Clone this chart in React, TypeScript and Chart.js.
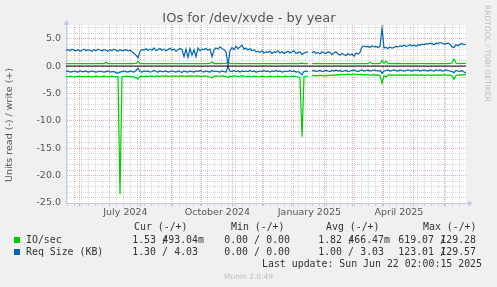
import React, { useEffect, useRef } from 'react';
import { Chart, registerables } from 'chart.js';

Chart.register(...registerables);

// ---------------- data ----------------
const START_UTC = Date.UTC(2024, 4, 18, 2, 0, 15); // left edge of the plot
const STEP_DAYS = 2;
const X_MAX_DAYS = 400;

// IO/sec write (+)
const ioWrite = [
  0.45, 0.46, 0.44, 0.45, 0.47, 0.45, 0.44, 0.46, 0.45, 0.44,
  0.46, 0.45, 0.44, 0.46, 0.45, 0.47, 0.45, 0.44, 0.46, 0.45,
  0.70, 0.46, 0.45, 0.44, 0.46, 0.45, 0.44, 0.47, 0.45, 0.46,
  0.45, 0.44, 0.46, 0.45, 0.47, 0.50, 0.90, 0.46, 0.45, 0.44,
  0.46, 0.45, 0.44, 0.46, 0.45, 0.47, 0.45, 0.44, 0.46, 0.45,
  0.44, 0.46, 0.45, 0.47, 0.45, 0.44, 0.46, 0.45, 0.44, 0.46,
  0.45, 0.47, 0.45, 0.44, 0.46, 0.45, 0.44, 0.46, 0.45, 0.47,
  0.45, 0.46, 0.52, 0.80, 0.46, 0.45, 0.44, 0.46, 0.45, 0.47,
  0.50, 0.75, 0.46, 0.45, 0.44, 0.46, 0.45, 0.47, 0.45, 0.44,
  0.46, 0.45, 0.44, 0.46, 0.45, 0.47, 0.45, 0.44, 0.46, 0.45,
  0.44, 0.46, 0.45, 0.47, 0.45, 0.44, 0.46, 0.45, 0.44, 0.46,
  0.45, 0.47, 0.45, 0.44, 0.46, 0.45, 0.44, 0.50, 0.55, 0.46,
  0.45, 0.44, null, 0.46, 0.45, 0.47, 0.45, 0.44, 0.46, 0.45,
  0.44, 0.46, 0.45, 0.47, 0.45, 0.44, 0.46, 0.45, 0.44, 0.46,
  0.45, 0.47, 0.45, 0.44, 0.46, 0.45, 0.44, 0.46, 0.48, 0.46,
  0.47, 0.45, 0.72, 0.46, 0.45, 0.47, 0.46, 0.48, 1.00, 0.50,
  0.90, 0.47, 0.46, 0.45, 0.47, 0.46, 0.48, 0.46, 0.45, 0.47,
  0.46, 0.48, 0.46, 0.45, 0.47, 0.46, 0.45, 0.47, 0.48, 0.46,
  0.45, 0.47, 0.46, 0.48, 0.46, 0.45, 0.47, 0.46, 0.48, 0.46,
  0.47, 0.45, 0.48, 0.60, 1.29, 0.55, 0.47, 0.46, 0.48, 0.47, 0.49,
];

// IO/sec read (-), plotted below zero
const ioRead = [
  -1.9, -1.95, -1.85, -1.9, -2.0, -1.9, -1.85, -1.95, -1.9, -1.9,
  -1.95, -1.85, -1.9, -2.0, -1.9, -1.85, -1.9, -1.95, -1.9, -1.85,
  -1.9, -1.95, -1.9, -1.85, -1.9, -2.0, -1.9, -23.4, -1.95, -1.9,
  -1.85, -1.9, -1.95, -1.9, -2.0, -2.1, -2.4, -1.9, -1.85, -1.9,
  -1.85, -1.9, -1.8, -1.85, -1.9, -1.8, -1.85, -1.9, -1.8, -1.85,
  -1.8, -1.85, -1.9, -1.8, -1.85, -1.8, -1.9, -1.85, -1.8, -1.85,
  -1.9, -1.8, -1.85, -1.8, -1.9, -1.85, -1.8, -1.85, -1.9, -1.8,
  -1.85, -1.9, -2.0, -2.2, -1.85, -1.8, -1.85, -1.9, -1.8, -1.85,
  -1.9, -2.1, -1.85, -1.9, -1.8, -1.85, -1.9, -1.85, -1.8, -1.85,
  -1.9, -1.85, -1.9, -1.95, -1.85, -1.9, -1.95, -1.9, -1.85, -1.9,
  -1.95, -1.9, -1.85, -1.9, -1.95, -1.9, -1.85, -1.9, -1.95, -1.9,
  -1.85, -1.9, -1.95, -1.9, -1.85, -1.9, -2.0, -2.2, -12.9, -1.95,
  -1.9, -1.85, null, -1.75, -1.7, -1.8, -1.75, -1.7, -1.75, -1.8,
  -1.7, -1.75, -1.65, -1.7, -1.6, -1.65, -1.55, -1.6, -1.5, -1.55,
  -1.5, -1.45, -1.55, -1.5, -1.45, -1.5, -1.55, -1.5, -1.6, -1.55,
  -1.6, -1.55, -1.7, -1.6, -1.55, -1.65, -1.6, -1.7, -3.1, -1.75,
  -2.0, -1.65, -1.6, -1.65, -1.6, -1.7, -1.65, -1.6, -1.65, -1.7,
  -1.6, -1.65, -1.7, -1.6, -1.65, -1.6, -1.7, -1.65, -1.6, -1.65,
  -1.7, -1.6, -1.65, -1.7, -1.6, -1.65, -1.7, -1.6, -1.65, -1.6,
  -1.65, -1.7, -1.6, -1.8, -2.4, -1.7, -1.6, -1.65, -1.55, -1.6, -1.53,
];

// Req Size (KB) write (+)
const reqWrite = [
  2.9, 3.0, 2.8, 3.1, 2.9, 2.8, 3.0, 2.7, 2.9, 3.1,
  2.8, 3.0, 2.9, 2.7, 3.0, 2.8, 3.1, 2.9, 2.8, 3.0,
  2.9, 2.7, 3.0, 2.8, 3.1, 2.9, 2.7, 3.0, 2.8, 2.9,
  3.0, 2.8, 2.9, 2.6, 2.3, 2.0, 1.5, 2.7, 3.0, 2.9,
  3.2, 2.8, 3.1, 2.9, 3.3, 2.8, 3.0, 3.2, 2.9, 3.1,
  2.8, 3.0, 3.3, 2.9, 3.1, 2.7, 3.0, 3.2, 3.0, 1.7,
  3.1, 1.6, 3.2, 2.0, 3.0, 1.7, 3.3, 2.8, 3.1, 3.0,
  3.2, 2.9, 3.1, 1.7, 3.0, 3.3, 3.1, 3.5, 3.2, 3.0,
  2.6, 0.2, 2.8, 3.4, 3.0, 3.6, 3.2, 3.5, 3.8, 3.1,
  3.3, 2.9, 3.2, 2.8, 3.0, 2.6, 2.7, 2.5, 2.8, 2.4,
  2.6, 2.5, 2.7, 2.3, 2.6, 2.5, 2.8, 2.4, 2.6, 2.3,
  2.5, 2.7, 2.4, 2.6, 2.8, 2.3, 2.5, 2.6, 2.1, 2.4,
  2.5, 2.6, null, 2.4, 2.7, 2.3, 2.5, 2.2, 2.6, 2.4,
  2.3, 2.6, 2.5, 2.1, 2.4, 2.6, 2.2, 2.0, 2.3, 2.1,
  1.9, 2.3, 2.0, 2.2, 1.8, 2.4, 2.2, 2.5, 3.5, 3.7,
  3.5, 3.6, 3.4, 3.7, 3.5, 3.6, 3.4, 3.6, 6.9, 3.3,
  3.4, 3.2, 3.5, 3.3, 3.4, 3.6, 3.5, 3.7, 3.6, 3.8,
  3.6, 3.7, 3.9, 3.7, 3.8, 3.6, 3.9, 3.8, 4.0, 3.9,
  4.1, 4.0, 4.2, 4.1, 3.9, 4.2, 4.1, 4.3, 4.2, 4.0,
  4.1, 4.2, 4.0, 3.5, 3.4, 3.9, 3.7, 4.0, 4.1, 3.9, 4.03,
];

// Req Size (KB) read (-), plotted below zero
const reqRead = [
  -1.0, -0.9, -1.1, -1.0, -0.9, -1.0, -1.1, -0.9, -1.0, -1.0,
  -0.9, -1.1, -1.0, -0.9, -1.0, -1.1, -1.0, -0.9, -1.0, -1.1,
  -1.0, -0.9, -1.1, -1.0, -1.0, -1.2, -1.3, -1.1, -1.0, -0.9,
  -1.0, -1.1, -0.9, -1.0, -1.1, -0.8, -0.4, -1.0, -1.1, -0.9,
  -1.0, -0.9, -1.1, -1.0, -0.8, -1.0, -1.1, -0.9, -1.0, -1.0,
  -0.9, -1.1, -1.0, -0.9, -1.0, -1.1, -0.9, -1.0, -1.2, -0.9,
  -1.0, -1.1, -0.9, -1.0, -1.1, -0.9, -1.0, -0.8, -1.0, -1.1,
  -0.9, -1.0, -1.1, -0.8, -1.0, -0.9, -1.0, -1.1, -0.9, -1.0,
  -1.1, -0.1, -0.9, -1.0, -0.8, -1.0, -0.9, -1.1, -0.9, -1.0,
  -0.9, -1.0, -0.8, -1.0, -0.9, -1.1, -1.0, -0.9, -1.0, -0.8,
  -1.0, -0.9, -1.1, -0.9, -1.0, -0.8, -1.0, -0.9, -1.1, -1.0,
  -0.9, -1.0, -0.8, -1.0, -0.9, -1.1, -1.0, -1.2, -1.6, -1.0,
  -0.9, -1.0, null, -0.9, -0.8, -1.0, -0.9, -0.8, -1.0, -0.9,
  -0.8, -0.9, -1.0, -0.8, -0.9, -0.7, -0.9, -0.8, -1.0, -0.9,
  -0.8, -1.0, -0.9, -0.8, -0.7, -0.9, -1.0, -0.8, -0.7, -0.9,
  -0.8, -0.7, -0.9, -0.8, -0.7, -0.8, -0.9, -0.8, -1.3, -0.9,
  -0.8, -0.7, -0.9, -0.8, -0.7, -0.8, -0.9, -0.7, -0.8, -0.9,
  -0.8, -0.7, -0.8, -0.9, -0.7, -0.8, -0.7, -0.9, -0.8, -0.7,
  -0.8, -0.9, -0.7, -0.8, -0.9, -0.7, -0.8, -0.7, -0.9, -0.8,
  -0.7, -0.8, -0.9, -1.0, -1.2, -0.8, -0.9, -1.0, -0.8, -1.1, -1.3,
];

// axis ticks / labels
const yMin = -25;
const yMax = 7.5;
const monthStarts = [
  '2024-06-01', '2024-07-01', '2024-08-01', '2024-09-01', '2024-10-01', '2024-11-01',
  '2024-12-01', '2025-01-01', '2025-02-01', '2025-03-01', '2025-04-01', '2025-05-01', '2025-06-01',
];
const xLabels = ['July 2024', 'October 2024', 'January 2025', 'April 2025'];
const xLabelFrom = ['2024-07-01', '2024-10-01', '2025-01-01', '2025-04-01'];
const xLabelTo = ['2024-08-01', '2024-11-01', '2025-02-01', '2025-05-01'];
const firstWeek = '2024-05-20';

// legend
const title = 'IOs for /dev/xvde - by year';
const yTitle = 'Units read (-) / write (+)';
const legendNames = ['IO/sec', 'Req Size (KB)'];
const colHeaders = ['Cur (-/+)', 'Min (-/+)', 'Avg (-/+)', 'Max (-/+)'];
const curCol = ['1.53/493.04m', '1.30/4.03'];
const minCol = ['0.00/0.00', '0.00/0.00'];
const avgCol = ['1.82/466.47m', '1.00/3.03'];
const maxCol = ['619.07/129.28', '123.01/129.57'];
const lastUpdate = 'Last update: Sun Jun 22 02:00:15 2025';
const watermark = 'RRDTOOL / TOBI OETIKER';
const footer = 'Munin 2.0.49';

// ---------------- styles ----------------
const GREEN = '#00cc00';
const BLUE = '#0066b3';
const GRID = 'rgba(185,185,185,0.6)';
const MGRID = 'rgba(230,140,140,0.75)';
const AXIS = '#c4c8f0';
const TICK_COLOR = '#555555';
const SANS = '"DejaVu Sans", sans-serif';
const MONO = '"DejaVu Sans Mono", monospace';

const DAY = 86400000;
const dayOf = (iso: string) => (Date.parse(iso + 'T00:00:00Z') - START_UTC) / DAY;
const key = (v: number) => Math.round(v * 1000);

const monthDays = monthStarts.map(dayOf);
const labelDays = xLabels.map((_, i) => (dayOf(xLabelFrom[i]) + dayOf(xLabelTo[i])) / 2);
const weekDays: number[] = [];
for (let d = dayOf(firstWeek); d < X_MAX_DAYS; d += 7) {
  if (!monthDays.some((m) => Math.abs(m - d) < 0.5)) weekDays.push(d);
}
const kindMap = new Map<number, string>();
weekDays.forEach((d) => kindMap.set(key(d), 'week'));
monthDays.forEach((d) => kindMap.set(key(d), 'month'));
const labelMap = new Map<number, string>();
labelDays.forEach((d, i) => {
  kindMap.set(key(d), 'label');
  labelMap.set(key(d), xLabels[i]);
});
const xTickValues = [...weekDays, ...monthDays, ...labelDays].sort((a, b) => a - b);
const yTickValues: number[] = [];
for (let v = yMin; v <= Math.floor(yMax); v++) yTickValues.push(v);

const toPoints = (arr: (number | null)[]) => arr.map((v, i) => ({ x: i * STEP_DAYS, y: v }));

const decorPlugin = {
  id: 'decor',
  beforeDraw(chart: any) {
    const { ctx, chartArea: a, width, height } = chart;
    ctx.save();
    ctx.fillStyle = '#f0f0f0';
    ctx.fillRect(0, 0, width, height);
    ctx.fillStyle = '#ffffff';
    ctx.fillRect(a.left, a.top, a.right - a.left, a.bottom - a.top);
    ctx.restore();
  },
  afterDraw(chart: any) {
    const { ctx, chartArea: a } = chart;
    ctx.save();
    // axis arrows
    ctx.fillStyle = AXIS;
    ctx.strokeStyle = AXIS;
    ctx.lineWidth = 1;
    ctx.beginPath();
    ctx.moveTo(a.right, a.bottom + 0.5);
    ctx.lineTo(a.right + 4, a.bottom + 0.5);
    ctx.stroke();
    ctx.beginPath();
    ctx.moveTo(a.right + 7, a.bottom + 0.5);
    ctx.lineTo(a.right + 2, a.bottom - 2.5);
    ctx.lineTo(a.right + 2, a.bottom + 3.5);
    ctx.closePath();
    ctx.fill();
    ctx.beginPath();
    ctx.moveTo(a.left + 0.5, a.top);
    ctx.lineTo(a.left + 0.5, a.top - 2);
    ctx.stroke();
    ctx.beginPath();
    ctx.moveTo(a.left + 0.5, a.top - 5);
    ctx.lineTo(a.left - 2.5, a.top);
    ctx.lineTo(a.left + 3.5, a.top);
    ctx.closePath();
    ctx.fill();

    // title
    ctx.fillStyle = '#555555';
    ctx.font = `13px ${SANS}`;
    ctx.textAlign = 'center';
    ctx.textBaseline = 'middle';
    ctx.fillText(title, 249, 19);

    // y title
    ctx.save();
    ctx.translate(10, 125);
    ctx.rotate(-Math.PI / 2);
    ctx.font = `9.5px ${SANS}`;
    ctx.fillStyle = TICK_COLOR;
    ctx.fillText(yTitle, 0, 0);
    ctx.restore();

    // watermark
    ctx.save();
    ctx.translate(487, 5);
    ctx.rotate(Math.PI / 2);
    ctx.font = `7.5px ${SANS}`;
    ctx.fillStyle = '#bdbdbd';
    ctx.textAlign = 'left';
    ctx.textBaseline = 'middle';
    ctx.fillText(watermark, 0, 0);
    ctx.restore();

    // legend
    ctx.font = `9.9px ${MONO}`;
    ctx.fillStyle = '#333333';
    ctx.textBaseline = 'middle';
    ctx.textAlign = 'left';
    const headerX = [134, 231, 326, 423];
    const readRight = [156, 248, 342, 434];
    const headerY = 227;
    const rowY = [240, 252];
    colHeaders.forEach((h, i) => ctx.fillText(h, headerX[i], headerY));
    const colors = [GREEN, BLUE];
    const cols = [curCol, minCol, avgCol, maxCol];
    legendNames.forEach((name, r) => {
      ctx.fillStyle = colors[r];
      ctx.fillRect(14, rowY[r] - 3, 6, 6);
      ctx.fillStyle = '#333333';
      ctx.textAlign = 'left';
      ctx.fillText(name, 26, rowY[r]);
      cols.forEach((col, c) => {
        const [rd, wr] = col[r].split('/');
        const R = readRight[c];
        ctx.textAlign = 'right';
        ctx.fillText(rd, R, rowY[r]);
        ctx.textAlign = 'left';
        ctx.fillText('/', R + 6, rowY[r]);
        const m = wr.match(/^([\d.]+)([a-zA-Z]?)$/);
        const num = m ? m[1] : wr;
        const suf = m ? m[2] : '';
        ctx.textAlign = 'right';
        ctx.fillText(num, R + 42, rowY[r]);
        if (suf) {
          ctx.textAlign = 'left';
          ctx.fillText(suf, R + 42, rowY[r]);
        }
      });
    });
    ctx.textAlign = 'right';
    ctx.fillText(lastUpdate, 482, 264);

    // footer
    ctx.font = `7.5px ${SANS}`;
    ctx.fillStyle = '#bdbdbd';
    ctx.textAlign = 'center';
    ctx.fillText(footer, 248.5, 277);
    ctx.restore();
  },
};

export default function App() {
  const ref = useRef<HTMLCanvasElement | null>(null);
  useEffect(() => {
    if (!ref.current) return;
    const lineDs = (label: string, data: (number | null)[], color: string) => ({
      label,
      data: toPoints(data),
      borderColor: color,
      backgroundColor: color,
      borderWidth: 1.2,
      pointRadius: 0,
      tension: 0,
      spanGaps: false,
      fill: false,
    });
    const chart = new Chart(ref.current, {
      type: 'line',
      data: {
        datasets: [
          {
            label: 'zero',
            data: [
              { x: 0, y: 0 },
              { x: X_MAX_DAYS, y: 0 },
            ],
            borderColor: '#000000',
            borderWidth: 1,
            pointRadius: 0,
            fill: false,
          },
          lineDs('Req Size write', reqWrite, BLUE),
          lineDs('Req Size read', reqRead, BLUE),
          lineDs('IO/sec write', ioWrite, GREEN),
          lineDs('IO/sec read', ioRead, GREEN),
        ] as any,
      },
      options: {
        responsive: false,
        animation: false,
        devicePixelRatio: 1,
        layout: { padding: { left: 0, right: 31, top: 25, bottom: 60 } },
        plugins: {
          legend: { display: false },
          tooltip: { enabled: false },
          title: { display: false },
        },
        scales: {
          x: {
            type: 'linear',
            min: 0,
            max: X_MAX_DAYS,
            afterFit: (s: any) => {
              s.height = 24;
            },
            afterBuildTicks: (s: any) => {
              s.ticks = xTickValues.map((v) => ({ value: v }));
            },
            grid: {
              drawTicks: true,
              tickLength: 3,
              lineWidth: 1,
              color: (c: any) => {
                const k = kindMap.get(key(c.tick ? c.tick.value : -1));
                if (k === 'month') return MGRID;
                if (k === 'week') return GRID;
                return 'rgba(0,0,0,0)';
              },
            },
            border: { display: true, color: AXIS, width: 1, dash: [1, 1] },
            ticks: {
              autoSkip: false,
              maxRotation: 0,
              padding: 1,
              color: TICK_COLOR,
              font: { family: SANS, size: 9.5 },
              callback: (v: any) => labelMap.get(key(Number(v))) || '',
            },
          },
          y: {
            type: 'linear',
            min: yMin,
            max: yMax,
            afterFit: (s: any) => {
              s.width = 66;
            },
            afterBuildTicks: (s: any) => {
              s.ticks = yTickValues.map((v) => ({ value: v }));
            },
            grid: {
              drawTicks: false,
              lineWidth: 1,
              color: (c: any) => {
                const v = c.tick ? c.tick.value : 0.5;
                return v % 5 === 0 ? MGRID : GRID;
              },
            },
            border: { display: true, color: AXIS, width: 1, dash: [1, 1] },
            ticks: {
              autoSkip: false,
              padding: 5,
              color: TICK_COLOR,
              font: { family: SANS, size: 9.5 },
              callback: (v: any) => (Number(v) % 5 === 0 ? Number(v).toFixed(1) : ''),
            },
          },
        },
      },
      plugins: [decorPlugin],
    } as any);
    return () => chart.destroy();
  }, []);
  return (
    <div style={{ position: 'fixed', left: 0, top: 0, width: 497, height: 287 }}>
      <canvas ref={ref} width={497} height={287} style={{ display: 'block' }} />
    </div>
  );
}
